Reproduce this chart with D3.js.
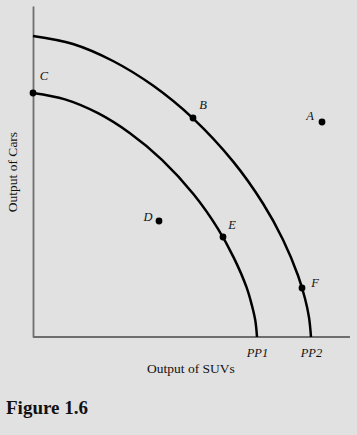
<!DOCTYPE html>
<html><head><meta charset="utf-8">
<script src="https://cdn.jsdelivr.net/npm/d3@7"></script>
<style>
html,body{margin:0;padding:0;background:#e1e1e1;}
svg{display:block;}
</style></head>
<body>
<script>
// ---- data (units = distance from origin) ----
const pp1X = [0, 32, 65, 97, 129, 161, 185, 201, 213.5, 219, 222.4, 224];
const pp1Y = [244, 237.6, 223.8, 203.8, 177.2, 142.3, 108.2, 78.9, 49.8, 31.2, 15.9, 0];
const pp2X = [0, 40, 80, 120, 160, 200, 230, 250, 265, 272, 276, 278];
const pp2Y = [301, 293, 276, 251.4, 218.6, 175.6, 133.5, 97.3, 61.5, 38.5, 19.6, 0];
const frontierNames = ["PP1", "PP2"];
const frontierEnds = [224, 278];
const pointNames = ["A", "B", "C", "D", "E", "F"];
const pointX = [289, 160, 0, 126, 190, 269];
const pointY = [215, 219, 244, 116, 100, 49];
const xTitle = "Output of SUVs";
const yTitle = "Output of Cars";
const figTitle = "Figure 1.6";

const W = 357, H = 435;
const svg = d3.select("body").append("svg").attr("width", W).attr("height", H);
svg.append("rect").attr("width", W).attr("height", H).attr("fill", "#e1e1e1");

const x = d3.scaleLinear().domain([0, 317]).range([33, 350]);
const y = d3.scaleLinear().domain([0, 331]).range([337, 6]);

const serif = "'Liberation Serif','DejaVu Serif',serif";
const axisColor = "#6e6e6e";

// axes
const gx = svg.append("g").attr("transform", `translate(0,${y(0)})`)
  .call(d3.axisBottom(x).tickValues(frontierEnds).tickSize(0).tickPadding(12)
    .tickFormat((d, i) => frontierNames[i]));
gx.select(".domain").attr("stroke", axisColor).attr("stroke-width", 1.8).attr("d", `M${x(0)},0H${x(317)}`);
gx.selectAll("text").attr("font-family", serif).attr("font-style", "italic")
  .attr("font-size", 12.5).attr("fill", "#111").attr("dy", "0.6em");

const gy = svg.append("g").attr("transform", `translate(${x(0)},0)`)
  .call(d3.axisLeft(y).tickValues([]).tickSizeOuter(0));
gy.select(".domain").attr("stroke", axisColor).attr("stroke-width", 1.8);

// frontiers
const line = d3.line().x(d => x(d[0])).y(d => y(d[1])).curve(d3.curveCatmullRom.alpha(0.5));
const curves = [d3.zip(pp1X, pp1Y), d3.zip(pp2X, pp2Y)];
svg.selectAll("path.pp").data(curves).join("path").attr("class", "pp")
  .attr("d", line).attr("fill", "none").attr("stroke", "#000").attr("stroke-width", 2.5);

// points
const pts = pointNames.map((n, i) => ({ n, x: pointX[i], y: pointY[i] }));
const labelOffset = { A: [-12, -2], B: [10, -9], C: [11, -13], D: [-11, 0], E: [9, -8], F: [13, -1] };
svg.selectAll("circle.pt").data(pts).join("circle").attr("class", "pt")
  .attr("cx", d => x(d.x)).attr("cy", d => y(d.y)).attr("r", 3.4).attr("fill", "#000");
svg.selectAll("text.pl").data(pts).join("text").attr("class", "pl")
  .attr("x", d => x(d.x) + labelOffset[d.n][0]).attr("y", d => y(d.y) + labelOffset[d.n][1])
  .attr("text-anchor", "middle").attr("font-family", serif).attr("font-style", "italic")
  .attr("font-size", 12.5).attr("fill", "#111").text(d => d.n);

// titles
svg.append("text").attr("x", 191).attr("y", 373).attr("text-anchor", "middle")
  .attr("font-family", serif).attr("font-size", 13.5).attr("fill", "#111").text(xTitle);
svg.append("text").attr("transform", "translate(16.5,172) rotate(-90)").attr("text-anchor", "middle")
  .attr("font-family", serif).attr("font-size", 13.5).attr("fill", "#111").text(yTitle);
svg.append("text").attr("x", 6).attr("y", 414)
  .attr("font-family", serif).attr("font-weight", "bold").attr("font-size", 19).attr("fill", "#111").text(figTitle);
</script>
</body></html>
